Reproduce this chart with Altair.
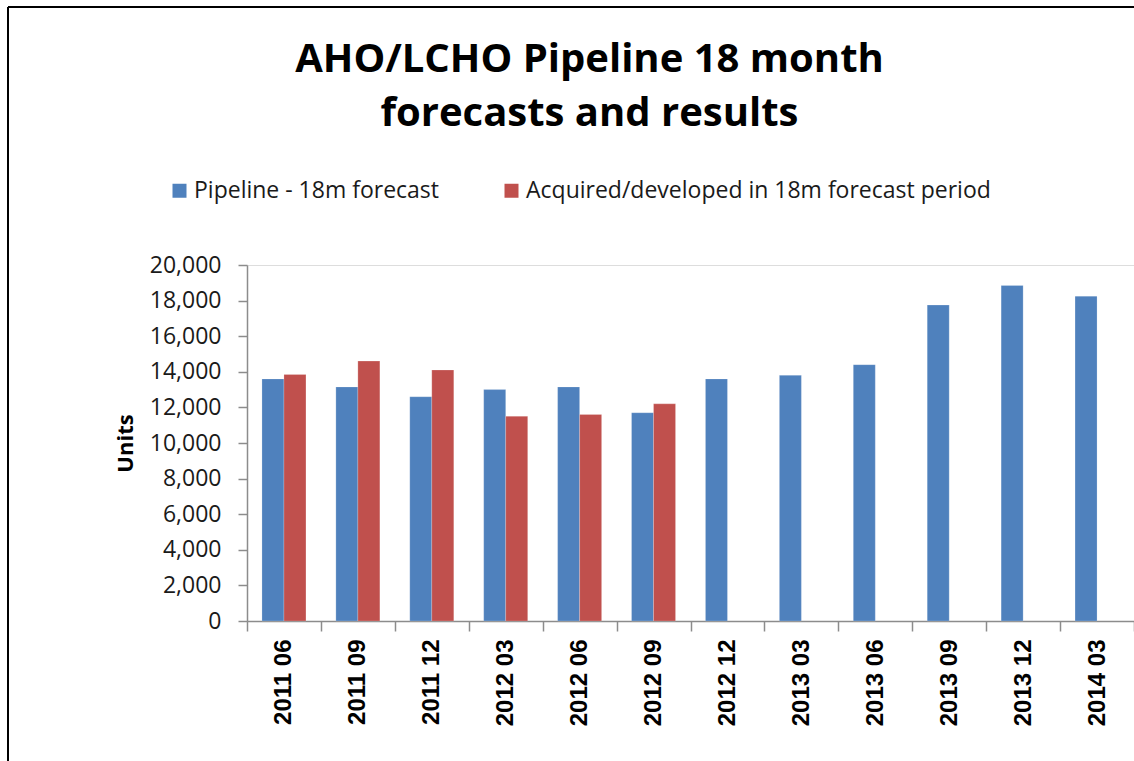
import altair as alt
import pandas as pd

# Quarterly snapshots
periods = ["2011 06", "2011 09", "2011 12", "2012 03", "2012 06", "2012 09",
           "2012 12", "2013 03", "2013 06", "2013 09", "2013 12", "2014 03"]

# Pipeline forecast for the next 18 months (units)
pipeline = [13600, 13150, 12600, 13000, 13150, 11700,
            13600, 13800, 14400, 17750, 18850, 18250]

# Units actually acquired/developed during the forecast window (only complete windows)
acquired = [13850, 14600, 14100, 11500, 11600, 12200]

series_names = ["Pipeline - 18m forecast", "Acquired/developed in 18m forecast period"]
series_colors = ["#4F81BD", "#C0504D"]

rows = []
for p, v in zip(periods, pipeline):
    rows.append({"period": p, "series": series_names[0], "units": v})
for p, v in zip(periods, acquired):
    rows.append({"period": p, "series": series_names[1], "units": v})
df = pd.DataFrame(rows)

W, H = 887, 356
LEFT, TOP = 247, 265

label_font = "Open Sans"

bars = alt.Chart(df).mark_bar(stroke="#ffffff", strokeOpacity=0.2, strokeWidth=1).encode(
    x=alt.X(
        "period:N",
        sort=periods,
        scale=alt.Scale(paddingInner=0, paddingOuter=0),
        axis=alt.Axis(
            title=None,
            labelAngle=270,
            labelAlign="right",
            labelBaseline="middle",
            labelFont="Liberation Sans",
            labelFontWeight="bold",
            labelFontSize=24,
            labelColor="#000000",
            labelPadding=8,
            tickBand="extent",
            tickSize=10,
            tickColor="#8c8c8c",
            tickWidth=1.5,
            domainColor="#8c8c8c",
            domainWidth=1.5,
        ),
    ),
    xOffset=alt.XOffset(
        "series:N",
        sort=series_names,
        scale=alt.Scale(domain=series_names, paddingInner=0, paddingOuter=0.68),
    ),
    y=alt.Y(
        "units:Q",
        scale=alt.Scale(domain=[0, 20000], nice=False),
        axis=alt.Axis(
            title="Units",
            titleFont="Open Sans",
            titleFontWeight="bold",
            titleFontSize=22,
            titleColor="#000000",
            titleX=-110,
            titleY=H / 2,
            titleAngle=270,
            titleBaseline="bottom",
            titleAlign="center",
            values=list(range(0, 20001, 2000)),
            format=",d",
            labelFont=label_font,
            labelFontSize=23,
            labelColor="#1a1a1a",
            labelPadding=17,
            tickSize=9,
            tickColor="#8c8c8c",
            tickWidth=1.5,
            domainColor="#8c8c8c",
            domainWidth=1.5,
            grid=False,
        ),
    ),
    color=alt.Color(
        "series:N",
        sort=series_names,
        scale=alt.Scale(domain=series_names, range=series_colors),
        legend=alt.Legend(
            title=None,
            orient="none",
            direction="horizontal",
            legendX=-79,
            legendY=-86,
            symbolType="square",
            symbolSize=196,
            symbolStrokeWidth=0,
            symbolOpacity=1,
            labelFont=label_font,
            labelFontSize=23,
            labelColor="#1a1a1a",
            labelOffset=3,
            labelLimit=800,
            columnPadding=60,
        ),
    ),
)

# Outer frame of the chart (left and top edges)
frame_left = alt.Chart(df).mark_rule(color="#000000", strokeWidth=2).encode(
    x=alt.value(8 - LEFT), y=alt.value(7 - TOP), y2=alt.value(761 - TOP)
)
frame_top = alt.Chart(df).mark_rule(color="#000000", strokeWidth=2).encode(
    x=alt.value(8 - LEFT), x2=alt.value(W), y=alt.value(7 - TOP)
)

chart = alt.layer(bars, frame_left, frame_top).properties(
    width=W,
    height=H,
    title=alt.TitleParams(
        text=["AHO/LCHO Pipeline 18 month", "forecasts and results"],
        font="Open Sans",
        fontWeight="bold",
        fontSize=40,
        lineHeight=54,
        color="#000000",
        anchor="middle",
        dx=-101,
        offset=0,
        dy=128,
    ),
    autosize=alt.AutoSizeParams(type="none"),
    padding={"left": LEFT, "top": TOP, "right": 0, "bottom": 761 - TOP - H},
).configure_view(stroke=None).configure(background="#ffffff")

chart.save("out.html", embed_options={"renderer": "svg", "actions": False})
